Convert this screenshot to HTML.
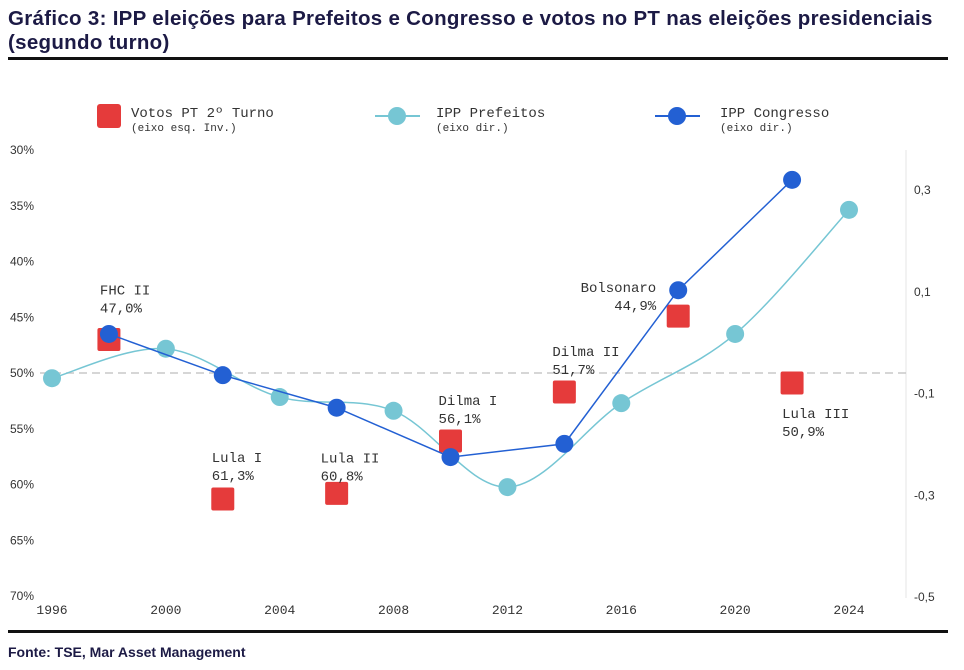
<!DOCTYPE html>
<html><head><meta charset="utf-8">
<style>
body{margin:0;background:#fff;width:964px;height:670px;overflow:hidden;font-family:"Liberation Sans",sans-serif}
.t{position:absolute;left:8px;top:7px;font-size:20.5px;font-weight:bold;color:#1c1a45;line-height:24px;letter-spacing:0.3px;white-space:nowrap}
</style></head><body>
<div class="t">Gráfico 3: IPP eleições para Prefeitos e Congresso e votos no PT nas eleições presidenciais<br>(segundo turno)</div>
<svg id="c" width="964" height="670" style="position:absolute;left:0;top:0"></svg>
<script>
const years=[1996,2000,2004,2008,2012,2016,2020,2024];
const votoYears=[1998,2002,2006,2010,2014,2018,2022];
const votoVals=[47.0,61.3,60.8,56.1,51.7,44.9,50.9];
const votoNames=["FHC II","Lula I","Lula II","Dilma I","Dilma II","Bolsonaro","Lula III"];
const prefYears=[1996,2000,2004,2008,2012,2016,2020,2024];
const prefVals=[-0.07,-0.012,-0.107,-0.134,-0.284,-0.119,0.017,0.261];
const congYears=[1998,2002,2006,2010,2014,2018,2022];
const congVals=[0.017,-0.064,-0.128,-0.225,-0.199,0.103,0.32];
const leftTicks=[30,35,40,45,50,55,60,65,70];
const rightTicks=[0.3,0.1,-0.1,-0.3,-0.5];

const svg=document.getElementById('c');
const NS='http://www.w3.org/2000/svg';
const X=y=>52+(y-1996)*(849-52)/28;
const YL=v=>150+(v-30)*(596-150)/40;
const YR=v=>190+(0.3-v)*(597-190)/0.8;
function el(tag,attrs,txt){const e=document.createElementNS(NS,tag);for(const k in attrs)e.setAttribute(k,attrs[k]);if(txt!==undefined)e.textContent=txt;svg.appendChild(e);return e;}
const mono='"Liberation Mono",monospace';

let e;
e=el('rect',{x:8,y:57,width:940,height:3,fill:'#111'});


e=el('rect',{x:8,y:630,width:940,height:3,fill:'#111'});


e=el('text',{x:8,y:657,'font-size':14,'font-weight':'bold',fill:'#1c1a45','font-family':'"Liberation Sans",sans-serif'},'Fonte: TSE, Mar Asset Management');



// legend
e=el('rect',{x:97,y:104,width:24,height:24,rx:3,fill:'#e53b3b'});


e=el('text',{x:131,y:117,'font-size':14,fill:'#333','font-family':mono},'Votos PT 2º Turno');


el('text',{x:131,y:131,'font-size':11,fill:'#333','font-family':mono},'(eixo esq. Inv.)');
e=el('line',{x1:375,y1:116,x2:420,y2:116,stroke:'#76c6d4','stroke-width':2});


el('circle',{cx:397,cy:116,r:9,fill:'#76c6d4'});
e=el('text',{x:436,y:117,'font-size':14,fill:'#333','font-family':mono},'IPP Prefeitos');


el('text',{x:436,y:131,'font-size':11,fill:'#333','font-family':mono},'(eixo dir.)');
e=el('line',{x1:655,y1:116,x2:700,y2:116,stroke:'#2360d3','stroke-width':2});


el('circle',{cx:677,cy:116,r:9,fill:'#2360d3'});
e=el('text',{x:720,y:117,'font-size':14,fill:'#333','font-family':mono},'IPP Congresso');


el('text',{x:720,y:131,'font-size':11,fill:'#333','font-family':mono},'(eixo dir.)');

// axes
leftTicks.forEach(t=>{e=el('text',{x:10,y:YL(t)+4,'font-size':12,fill:'#333','font-family':'"Liberation Sans",sans-serif'},t+'%');

});
rightTicks.forEach(t=>{e=el('text',{x:914,y:YR(t)+4,'font-size':12,fill:'#333','font-family':'"Liberation Sans",sans-serif'},t.toFixed(1).replace('.',','));

});
years.forEach(y=>{e=el('text',{x:X(y),y:614,'font-size':13,fill:'#333','text-anchor':'middle','font-family':mono},y);

});
e=el('line',{x1:906,y1:150,x2:906,y2:598,stroke:'#e4e4e4','stroke-width':1});


e=el('line',{x1:40,y1:YL(50),x2:906,y2:YL(50),stroke:'#c8c8c8','stroke-width':1.5,'stroke-dasharray':'8,5'});



// prefeitos smooth line
const pp=prefYears.map((y,i)=>[X(y),YR(prefVals[i])]);
let d='M'+pp[0][0]+','+pp[0][1];
for(let i=0;i<pp.length-1;i++){const p0=pp[Math.max(0,i-1)],p1=pp[i],p2=pp[i+1],p3=pp[Math.min(pp.length-1,i+2)];
d+=` C${p1[0]+(p2[0]-p0[0])/6},${p1[1]+(p2[1]-p0[1])/6} ${p2[0]-(p3[0]-p1[0])/6},${p2[1]-(p3[1]-p1[1])/6} ${p2[0]},${p2[1]}`;}
e=el('path',{d:d,fill:'none',stroke:'#76c6d4','stroke-width':1.5});



// votos squares
votoYears.forEach((y,i)=>{e=el('rect',{x:X(y)-11.5,y:YL(votoVals[i])-11.5,width:23,height:23,rx:2,fill:'#e53b3b'});

});

prefYears.forEach((y,i)=>{e=el('circle',{cx:X(y),cy:YR(prefVals[i]),r:9,fill:'#76c6d4'});

});

e=el('polyline',{points:congYears.map((y,i)=>X(y)+','+YR(congVals[i])).join(' '),fill:'none',stroke:'#2360d3','stroke-width':1.5});


congYears.forEach((y,i)=>{e=el('circle',{cx:X(y),cy:YR(congVals[i]),r:9,fill:'#2360d3'});

});

// labels: offsets relative to marker
const lblOff=[[-9,-45,'start'],[-11,-37,'start'],[-16,-31,'start'],[-12,-36,'start'],[-12,-36,'start'],[-22,-24,'end'],[-10,35,'start']];
votoYears.forEach((y,i)=>{const o=lblOff[i];const x=X(y)+o[0],yy=YL(votoVals[i])+o[1];
e=el('text',{x:x,y:yy,'font-size':14,fill:'#333','text-anchor':o[2],'font-family':mono},votoNames[i]);


e=el('text',{x:x,y:yy+18,'font-size':14,fill:'#333','text-anchor':o[2],'font-family':mono},votoVals[i].toFixed(1).replace('.',',')+'%');

});
</script>
</body></html>
